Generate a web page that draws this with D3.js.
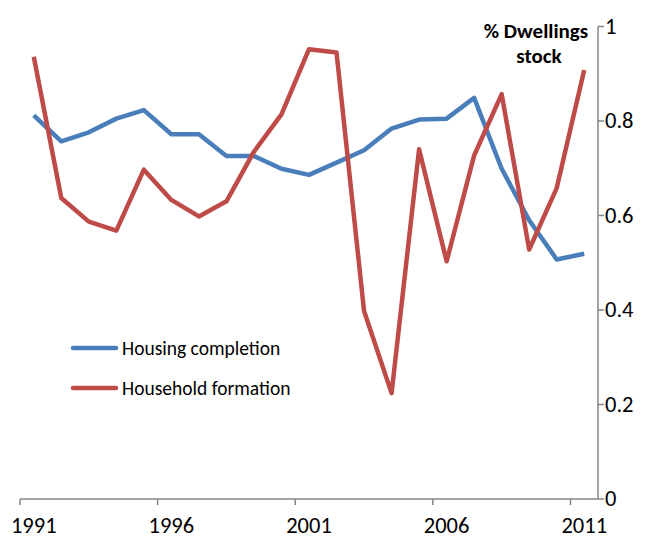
<!DOCTYPE html>
<html><head><meta charset="utf-8">
<script src="https://cdn.jsdelivr.net/npm/d3@7"></script>
<style>
body{margin:0;background:#fff;}
text{font-family:Carlito,"Liberation Sans Narrow","Liberation Sans",sans-serif;}
</style></head>
<body><svg id="c" width="649" height="538"></svg>
<script>
const years = d3.range(1991, 2012);
const tickYears = [1991, 1996, 2001, 2006, 2011];
const housingCompletion = [0.812,0.757,0.776,0.805,0.823,0.772,0.772,0.726,0.726,0.699,0.686,0.712,0.738,0.784,0.803,0.805,0.849,0.699,0.59,0.507,0.519];
const householdFormation = [0.936,0.637,0.587,0.568,0.697,0.633,0.598,0.630,0.735,0.814,0.952,0.945,0.398,0.224,0.740,0.503,0.727,0.857,0.528,0.658,0.908];
const yTicks = [0,0.2,0.4,0.6,0.8,1];
const seriesNames = ["Housing completion","Household formation"];
const colors = ["#4a7ebb","#be4b48"];

const svg = d3.select("#c");
const L = 20, R = 598, T = 26.5, B = 499;
const x = d3.scaleBand().domain(years).range([L, R]);
const y = d3.scaleLinear().domain([0,1]).range([B, T]);
const axisColor = "#868686";

// x axis
const xg = svg.append("g");
xg.append("line").attr("x1",L).attr("x2",R).attr("y1",B).attr("y2",B).attr("stroke",axisColor).attr("stroke-width",1.5);
tickYears.forEach(yr=>{
  xg.append("line").attr("x1",x(yr)).attr("x2",x(yr)).attr("y1",B).attr("y2",B+6).attr("stroke",axisColor).attr("stroke-width",1.5);
  xg.append("text").attr("x",x(yr)+x.bandwidth()/2).attr("y",533).attr("text-anchor","middle")
    .attr("font-size",22.5).attr("fill","#000").text(yr);
});
// y axis right
const yg = svg.append("g");
yg.append("line").attr("x1",R).attr("x2",R).attr("y1",T).attr("y2",B).attr("stroke",axisColor).attr("stroke-width",1.5);
yTicks.forEach(v=>{
  yg.append("line").attr("x1",R).attr("x2",R+6).attr("y1",y(v)).attr("y2",y(v)).attr("stroke",axisColor).attr("stroke-width",1.5);
  yg.append("text").attr("x",605).attr("y",y(v)+7).attr("font-size",22.5).attr("fill","#000").text(v===0||v===1?String(v):v.toFixed(1));
});
// title
svg.append("text").attr("x",536).attr("y",38).attr("text-anchor","middle").attr("font-size",21).attr("font-weight","bold").text("% Dwellings");
svg.append("text").attr("x",539).attr("y",63).attr("text-anchor","middle").attr("font-size",21).attr("font-weight","bold").text("stock");

const line = d3.line().x((d,i)=>x(years[i])+x.bandwidth()/2).y(d=>y(d));
[housingCompletion, householdFormation].forEach((s,k)=>{
  svg.append("path").attr("d",line(s)).attr("fill","none").attr("stroke",colors[k]).attr("stroke-width",4.5).attr("stroke-linejoin","round");
});
// legend
seriesNames.forEach((n,k)=>{
  const ly = 348 + k*40;
  svg.append("line").attr("x1",73).attr("x2",116).attr("y1",ly).attr("y2",ly).attr("stroke",colors[k]).attr("stroke-width",4.5).attr("stroke-linecap","round");
  svg.append("text").attr("x",122).attr("y",ly+7).attr("font-size",19.5).attr("fill","#000").text(n);
});
</script></body></html>
